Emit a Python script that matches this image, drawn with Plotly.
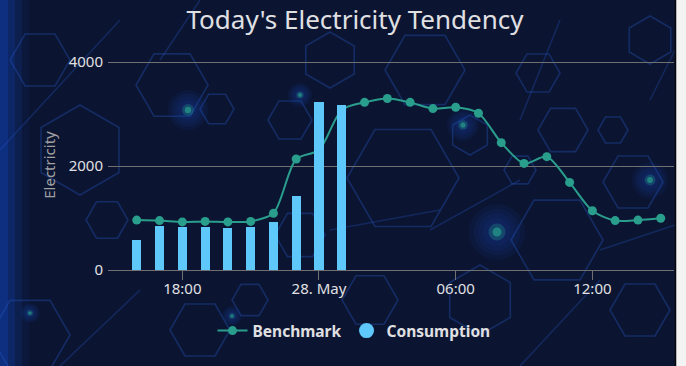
import math
import pandas as pd
import plotly.graph_objects as go

# ---- data -------------------------------------------------------------
hours = pd.date_range("2019-05-27 16:00", periods=24, freq="h")

benchmark = [960, 950, 925, 935, 925, 935, 1090, 2135, 2310, 3080, 3225, 3300,
             3225, 3105, 3130, 3015, 2450, 2050, 2180, 1685, 1140, 950, 960, 995]

consumption_hours = hours[:10]
consumption = [580, 850, 825, 825, 800, 825, 925, 1425, 3225, 3175]

tick_times = ["2019-05-27 18:00", "2019-05-28 00:00", "2019-05-28 06:00", "2019-05-28 12:00"]
tick_text = ["18:00", "28. May", "06:00", "12:00"]
y_ticks = [0, 2000, 4000]

# ---- colours / fonts -------------------------------------------------------
BENCH = "#2a9e8c"
CONS = "#5fc8fa"
TEXT = "#e0e0e3"
AXIS_TITLE = "#a0a0a3"
GRID = "#707073"
BG = "#0b1532"
FONT = "Noto Sans"

# plot area in pixels (used to place the decorative background)
L, R, T, B = 108, 674, 60, 270
Y_MAX = 4040


def px(x):
    return (x - L) / (R - L)


def py(y):
    return (B - y) / (B - T)


def hexagon(cx, cy, r, rot=0.0, color="rgba(40,90,200,0.33)", width=1.6):
    pts = []
    for k in range(6):
        a = math.radians(60 * k + rot)
        pts.append((px(cx + r * math.cos(a)), py(cy + r * math.sin(a))))
    path = "M " + " L ".join(f"{x:.4f},{y:.4f}" for x, y in pts) + " Z"
    return dict(type="path", path=path, xref="paper", yref="paper",
                line=dict(color=color, width=width), layer="below")


def glow(cx, cy, r):
    out = []
    steps = 6
    for i in range(steps):
        rr = r * (1 - i / steps)
        out.append(dict(type="circle", xref="paper", yref="paper",
                        x0=px(cx - rr), x1=px(cx + rr),
                        y0=py(cy + rr), y1=py(cy - rr),
                        fillcolor="rgba(25,80,210,0.07)", line=dict(width=0),
                        layer="below"))
    for c, a in [(r * 0.30, 0.25), (r * 0.16, 0.6)]:
        out.append(dict(type="circle", xref="paper", yref="paper",
                        x0=px(cx - c), x1=px(cx + c), y0=py(cy + c), y1=py(cy - c),
                        fillcolor=f"rgba(40,170,140,{a})", line=dict(width=0),
                        layer="below"))
    return out


shapes = []

# bluish edge on the left
for i, a in enumerate([0.30, 0.22, 0.14, 0.07]):
    shapes.append(dict(type="rect", xref="paper", yref="paper",
                       x0=px(-2), x1=px(8 + i * 7), y0=py(370), y1=py(-5),
                       fillcolor=f"rgba(20,70,190,{a})", line=dict(width=0),
                       layer="below"))

# hexagon mesh
hexes = [
    (172, 85, 36, 0), (217, 109, 17, 0), (107, 220, 21, 0), (40, 60, 30, 0),
    (30, 335, 40, 0), (200, 330, 30, 0), (290, 120, 22, 0), (330, 60, 28, 30),
    (425, 70, 40, 0), (538, 73, 22, 0), (563, 130, 25, 0), (557, 240, 46, 0),
    (633, 182, 30, 0), (403, 178, 56, 0), (613, 130, 15, 0), (470, 135, 20, 30),
    (300, 235, 25, 0), (250, 300, 18, 0), (480, 300, 35, 30), (640, 310, 30, 0),
    (370, 300, 28, 0), (650, 40, 24, 30), (80, 150, 45, 30), (520, 170, 16, 0),
]
for cx, cy, r, rot in hexes:
    shapes.append(hexagon(cx, cy, r, rot))

# a few long mesh strands
for (x0, y0, x1, y1) in [(0, 150, 120, 20), (200, 0, 160, 60), (430, 230, 520, 180),
                         (600, 250, 675, 225), (330, 230, 440, 210), (560, 20, 520, 120),
                         (650, 100, 675, 50), (60, 366, 140, 290), (520, 366, 600, 280)]:
    shapes.append(dict(type="line", xref="paper", yref="paper",
                       x0=px(x0), y0=py(y0), x1=px(x1), y1=py(y1),
                       line=dict(color="rgba(40,90,200,0.28)", width=1.6), layer="below"))

# glowing nodes
for cx, cy, r in [(188, 110, 20), (300, 95, 12), (463, 125, 16), (497, 232, 28),
                  (650, 180, 18), (30, 313, 10), (232, 316, 10)]:
    shapes.extend(glow(cx, cy, r))

# light frame strip on the right edge
shapes.append(dict(type="rect", xref="paper", yref="paper",
                   x0=px(676), x1=px(700), y0=py(380), y1=py(-15),
                   fillcolor="#f3f3f3", line=dict(width=0), layer="above"))
shapes.append(dict(type="line", xref="paper", yref="paper",
                   x0=px(675.5), x1=px(675.5), y0=py(380), y1=py(-15),
                   line=dict(color="#05070d", width=1.5), layer="above"))

# ---- traces ------------------------------------------------------------
fig = go.Figure()

fig.add_trace(go.Scatter(
    x=hours, y=benchmark, name="Benchmark", mode="lines+markers",
    line=dict(color=BENCH, width=2, shape="spline", smoothing=0.8),
    marker=dict(color=BENCH, size=9),
    xaxis="x", yaxis="y",
))

fig.add_trace(go.Bar(
    x=consumption_hours, y=consumption, name="Consumption",
    marker=dict(color=CONS, line=dict(width=0)),
    width=1.45e6, showlegend=False,
    xaxis="x2", yaxis="y2",
))

# legend entry with a round swatch for the columns
fig.add_trace(go.Scatter(
    x=[None], y=[None], name="Consumption", mode="markers",
    marker=dict(color=CONS, size=15, symbol="circle"),
    xaxis="x", yaxis="y",
))

x_range = ["2019-05-27 14:44:18", "2019-05-28 15:35:00"]

fig.update_layout(
    width=686, height=366,
    margin=dict(l=L, r=686 - R, t=T, b=366 - B),
    paper_bgcolor=BG, plot_bgcolor="rgba(0,0,0,0)",
    font=dict(family=FONT, color=TEXT),
    title=dict(text="Today's Electricity Tendency", x=355 / 686, xanchor="center",
               xref="container", y=1 - 20 / 366, yanchor="middle", yref="container",
               font=dict(size=26, color=TEXT, family=FONT)),
    xaxis=dict(type="date", range=x_range, tickvals=tick_times, ticktext=tick_text,
               ticks="outside", ticklen=9, tickcolor=GRID, tickwidth=1,
               showline=True, linecolor=GRID, linewidth=1, showgrid=False,
               zeroline=False, tickfont=dict(size=15, color=TEXT),
               ticklabelstandoff=-4),
    yaxis=dict(range=[0, Y_MAX], tickvals=y_ticks, showgrid=True, gridcolor=GRID,
               gridwidth=1, zeroline=False, showline=False, ticks="",
               tickfont=dict(size=15, color=TEXT), ticklabelstandoff=4,
               title=dict(text="Electricity", font=dict(size=15, color=AXIS_TITLE),
                          standoff=9)),
    xaxis2=dict(type="date", range=x_range, overlaying="x", visible=False),
    yaxis2=dict(range=[0, Y_MAX], overlaying="y", visible=False),
    bargap=0,
    legend=dict(orientation="h", x=px(354), xanchor="center", y=py(331),
                yanchor="middle", font=dict(size=15.5, color=TEXT, family=FONT, weight="bold"),
                bgcolor="rgba(0,0,0,0)", itemwidth=30),
    shapes=shapes,
)

fig.write_html("out.html")
